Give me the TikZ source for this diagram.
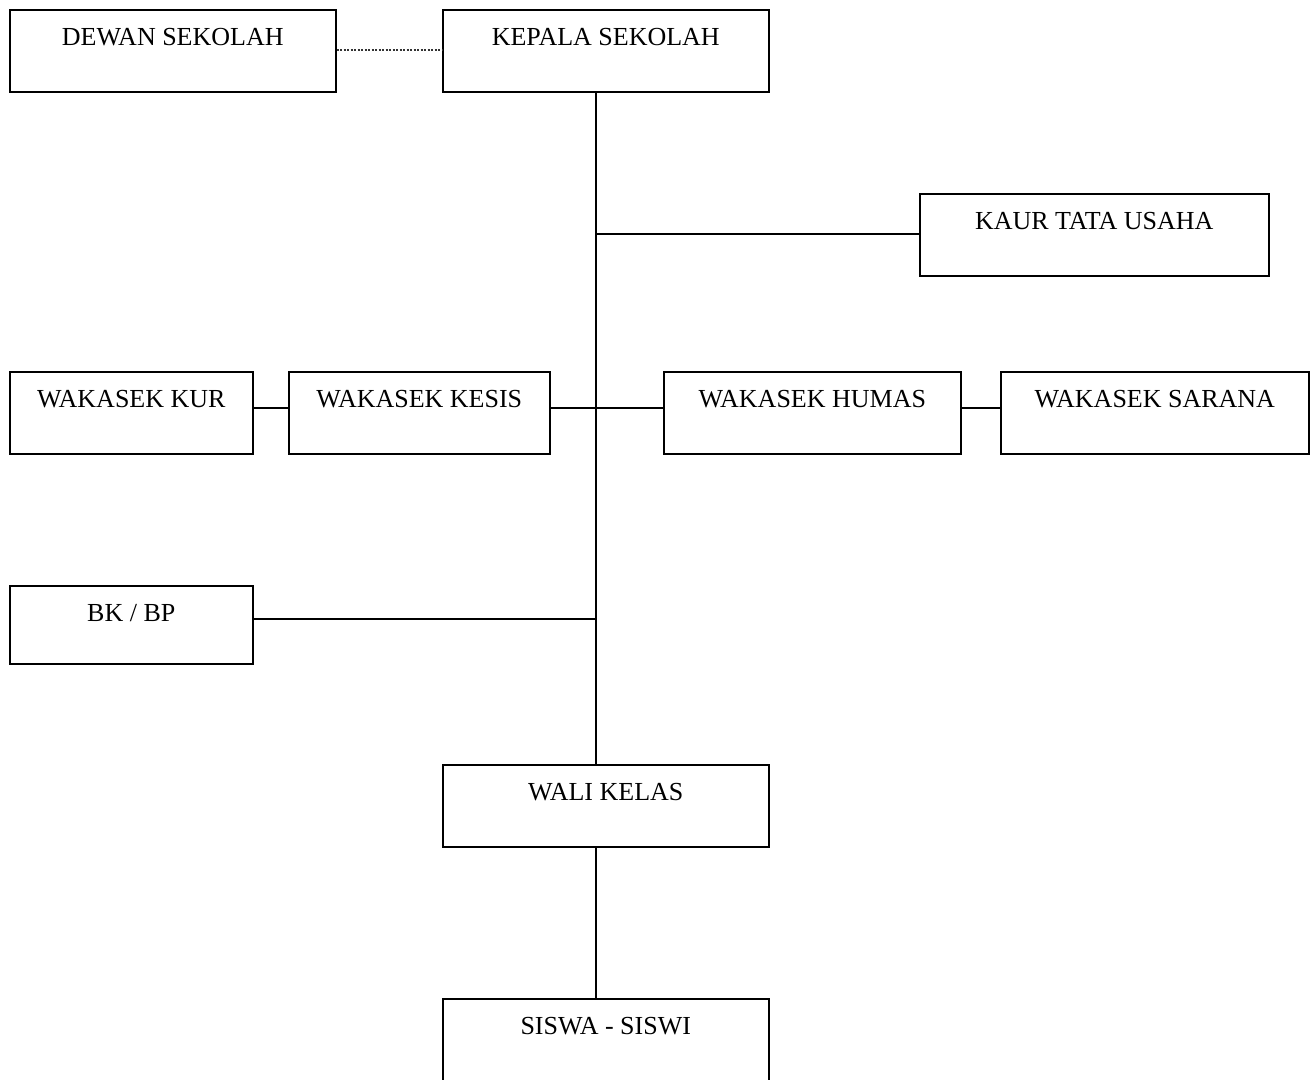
\documentclass[tikz,border=0pt]{standalone}
\usepackage{fontspec}
\setmainfont{Liberation Serif}

\tikzset{
	unit/.style={draw, line width=1.5pt, anchor=north west, inner xsep=0pt, inner ysep=0pt,
		minimum width=#1, text height=36pt, text depth=46pt,
		font=\fontsize{26}{30}\selectfont},
	link/.style={line width=1.5pt}
}

\begin{document}
\begin{tikzpicture}[x=1pt, y=-1pt]
	\clip (0,0) rectangle (1316,1079);
	%\draw[help lines, gray!30] (0,0) grid[step=100] (1316,1079);
	
	\node[unit=326pt] (dewan) at (9,9) {DEWAN SEKOLAH};
	\node[unit=326pt] (kepala) at (442,9) {KEPALA SEKOLAH};
	\node[unit=349pt] (kaur) at (919,193) {KAUR TATA USAHA};
	
	\node[unit=243pt] (kur) at (9,371) {WAKASEK KUR};
	\node[unit=261pt] (kesis) at (288,371) {WAKASEK KESIS};
	\node[unit=297pt] (humas) at (663,371) {WAKASEK HUMAS};
	\node[unit=308pt] (sarana) at (1000,371) {WAKASEK SARANA};
	
	\node[unit=243pt, text depth=42pt] (bk) at (9,585) {BK / BP};
	\node[unit=326pt] (wali) at (442,764) {WALI KELAS};
	\node[unit=326pt] (siswa) at (442,998) {SISWA - SISWI};
	
	\coordinate (top) at ([xshift=-10pt]kepala.south);
	\coordinate (mid) at ([xshift=-10pt]wali.south);
	
	\draw[black!80, line width=1.6pt, dash pattern=on 2pt off 1.5pt] ([yshift=1pt]dewan.east) -- ([yshift=1pt]kepala.west);
	\draw[link] (top) -- (top |- wali.north);
	\draw[link] (mid) -- (mid |- siswa.north);
	
	\draw[link] ([yshift=1pt]kaur.west) -- ([yshift=1pt]kaur.west -| top);
	\foreach \a/\b in {kur/kesis, kesis/humas, humas/sarana}
	\draw[link] ([yshift=5pt]\a.east) -- ([yshift=5pt]\b.west);
	\draw[link] ([yshift=6pt]bk.east) -- ([yshift=6pt]bk.east -| top);
	
\end{tikzpicture}
\end{document}
